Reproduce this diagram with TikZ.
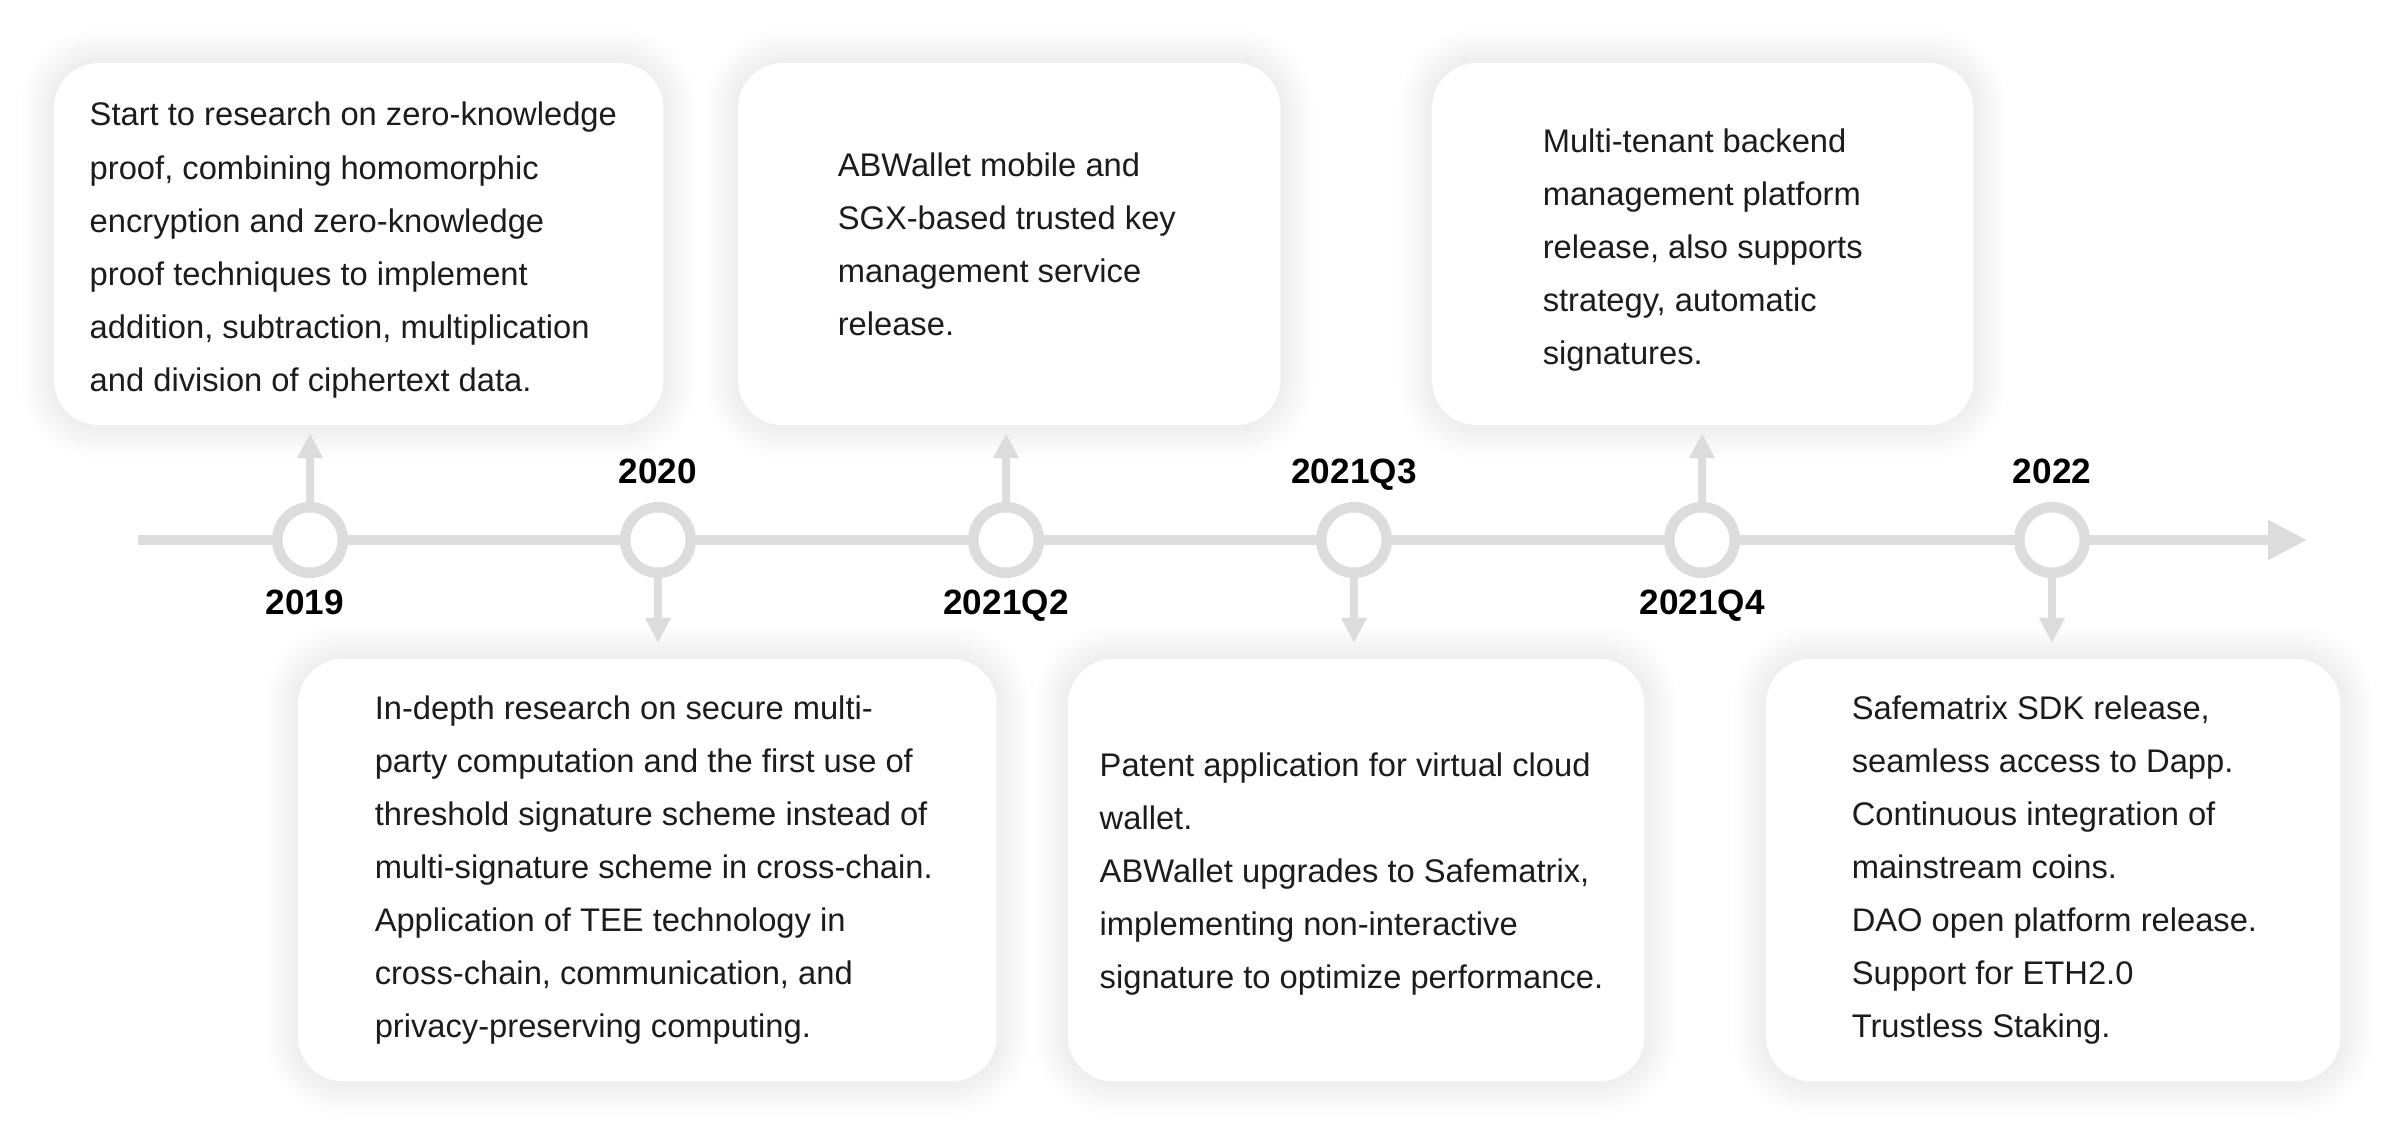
\documentclass[tikz,border=0pt]{standalone}
\usepackage{fontspec}
\setmainfont{Liberation Sans}
\usetikzlibrary{arrows.meta,positioning}
\definecolor{rail}{HTML}{DCDCDC}
\definecolor{ink}{HTML}{1C1C1C}

\begin{document}
\begin{tikzpicture}[
          x=0.01cm,y=-0.01cm,
          axis/.style={draw=rail,line width=0.09cm,-{Triangle[length=0.39cm,width=0.38cm]}},
          stem/.style={draw=rail,line width=0.08cm,-{Triangle[length=0.25cm,width=0.24cm]}},
          milestone/.style={circle,draw=rail,fill=white,line width=0.105cm,minimum size=0.655cm,inner sep=0},
          year/.style={font=\bfseries\fontsize{10pt}{12pt}\selectfont,inner sep=0,outer sep=0,text height=0.25cm,text depth=0pt},
          halo/.style={preaction={draw=black,draw opacity=0.009,line width=#1}},
          card/.style={fill=white,rounded corners=0.45cm,outer sep=0,anchor=north west,
            halo=0.66cm,halo=0.58cm,halo=0.50cm,halo=0.42cm,halo=0.34cm,halo=0.26cm,halo=0.18cm,halo=0.10cm},
          topcard/.style={card,minimum height=3.62cm},
          botcard/.style={card,minimum height=4.22cm},
          note/.style={align=left,inner sep=0,text=ink,font=\fontsize{9.3pt}{0.53cm}\selectfont}
        ]
        \fill[white] (0,0) rectangle (2400,1140);
        \useasboundingbox (0,0) rectangle (2400,1140);

        %cards above
        \node[topcard,minimum width=6.09cm] (c2019) at (54,63) {};
        \node[topcard,minimum width=5.42cm] (c2021q2) at (738,63) {};
        \node[topcard,minimum width=5.41cm] (c2021q4) at (1432,63) {};

        %cards below
        \node[botcard,minimum width=6.98cm] (c2020) at (298,659) {};
        \node[botcard,minimum width=5.76cm] (c2021q3) at (1068,659) {};
        \node[botcard,minimum width=5.74cm] (c2022) at (1766,659) {};

        %texts
        \node[note,right=0.35cm of c2019.west,yshift=-0.06cm] (t2019) {Start to research on zero-knowledge\\
          proof, combining homomorphic\\
          encryption and zero-knowledge\\
          proof techniques to implement\\
          addition, subtraction, multiplication\\
          and division of ciphertext data.};
        \node[note,right=0.99cm of c2021q2.west] (t2021q2) {ABWallet mobile and\\
          SGX-based trusted key\\
          management service\\
          release.};
        \node[note,right=1.10cm of c2021q4.west,yshift=-0.06cm] (t2021q4) {Multi-tenant backend\\
          management platform\\
          release, also supports\\
          strategy, automatic\\
          signatures.};
        \node[note,right=0.76cm of c2020.west] (t2020) {In-depth research on secure multi-\\
          party computation and the first use of\\
          threshold signature scheme instead of\\
          multi-signature scheme in cross-chain.\\
          Application of TEE technology in\\
          cross-chain, communication, and\\
          privacy-preserving computing.};
        \node[note,right=0.31cm of c2021q3.west,yshift=-0.04cm] (t2021q3) {Patent application for virtual cloud\\
          wallet.\\
          ABWallet upgrades to Safematrix,\\
          implementing non-interactive\\
          signature to optimize performance.};
        \node[note,right=0.85cm of c2022.west] (t2022) {Safematrix SDK release,\\
          seamless access to Dapp.\\
          Continuous integration of\\
          mainstream coins.\\
          DAO open platform release.\\
          Support for ETH2.0\\
          Trustless Staking.};

        %timeline
        \coordinate (start) at (138,540);
        \coordinate (end) at (2307,540);
        \draw[axis] (start) -- (end);

        \node[milestone] (m2019) at (310,540) {};
        \node[milestone] (m2020) at (658,540) {};
        \node[milestone] (m2021q2) at (1006,540) {};
        \node[milestone] (m2021q3) at (1354,540) {};
        \node[milestone] (m2021q4) at (1702,540) {};
        \node[milestone] (m2022) at (2052,540) {};

        %years
        \node[year,below=0.115cm of m2019,xshift=-0.05cm] (y2019) {2019};
        \node[year,above=0.185cm of m2020] (y2020) {2020};
        \node[year,below=0.115cm of m2021q2] (y2021q2) {2021Q2};
        \node[year,above=0.185cm of m2021q3] (y2021q3) {2021Q3};
        \node[year,below=0.115cm of m2021q4] (y2021q4) {2021Q4};
        \node[year,above=0.185cm of m2022] (y2022) {2022};

        %pointers
        \draw[stem,shorten >=0.08cm] (m2019.north) -- (m2019.north |- c2019.south);
        \draw[stem,shorten >=0.08cm] (m2021q2.north) -- (m2021q2.north |- c2021q2.south);
        \draw[stem,shorten >=0.08cm] (m2021q4.north) -- (m2021q4.north |- c2021q4.south);
        \draw[stem,shorten >=0.16cm] (m2020.south) -- (m2020.south |- c2020.north);
        \draw[stem,shorten >=0.16cm] (m2021q3.south) -- (m2021q3.south |- c2021q3.north);
        \draw[stem,shorten >=0.16cm] (m2022.south) -- (m2022.south |- c2022.north);
    \end{tikzpicture}
\end{document}
